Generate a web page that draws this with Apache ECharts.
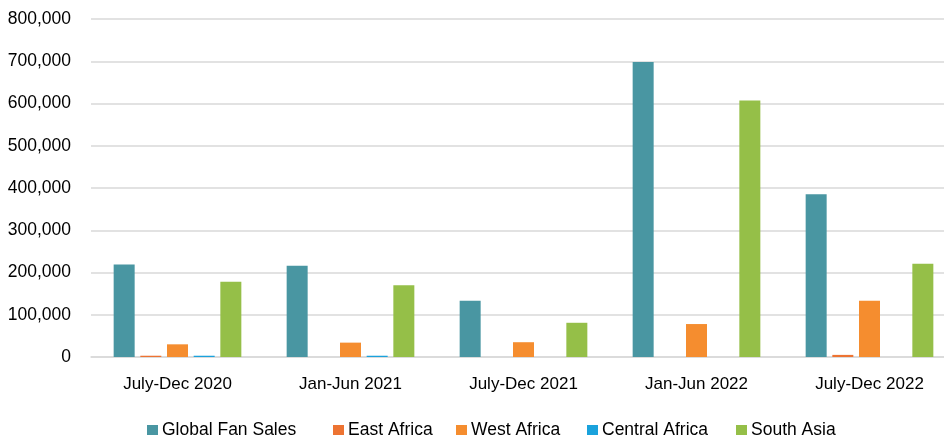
<!DOCTYPE html>
<html>
<head>
<meta charset="utf-8">
<script src="https://cdn.jsdelivr.net/npm/echarts@6/dist/echarts.min.js"></script>
<style>
  html, body { margin: 0; padding: 0; background: #ffffff; }
  #chart { width: 944px; height: 443px; }
</style>
</head>
<body>
<div id="chart"></div>
<script>
// Half-year periods on the category axis
const periods = ['July-Dec 2020', 'Jan-Jun 2021', 'July-Dec 2021', 'Jan-Jun 2022', 'July-Dec 2022'];

// Fan sales per region, units sold
const globalFanSales = [219000, 216000, 133000, 698000, 385000];
const eastAfrica     = [3000, 0, 0, 0, 5000];
const westAfrica     = [30000, 34000, 35000, 78000, 133000];
const centralAfrica  = [3000, 3000, 0, 0, 0];
const southAsia      = [178000, 170000, 81000, 607000, 221000];

const seriesNames  = ['Global Fan Sales', 'East Africa', 'West Africa', 'Central Africa', 'South Asia'];
const seriesValues = [globalFanSales, eastAfrica, westAfrica, centralAfrica, southAsia];
const seriesColors = ['#4996a2', '#ed7332', '#f58d2f', '#1aa2dc', '#95bf48'];

// Left edge of each legend box (the box has 5px padding before the swatch)
const legendLefts = [142, 328, 451, 582, 731];

const chart = echarts.init(document.getElementById('chart'), null, { renderer: 'canvas' });

const font = 'Liberation Sans, Arial, sans-serif';

chart.setOption({
  animation: false,
  textStyle: { fontFamily: font },
  // the plot runs a little past the right edge of the canvas
  grid: { left: 91, width: 865, top: 19, bottom: 86, containLabel: false, outerBoundsMode: 'none' },
  legend: seriesNames.map((name, i) => ({
    data: [name],
    left: legendLefts[i],
    top: 416,
    icon: 'rect',
    itemWidth: 11,
    itemHeight: 10,
    textStyle: { fontFamily: font, fontSize: 17.5, color: '#000000', padding: [0, 0, 0, -1] }
  })),
  xAxis: {
    type: 'category',
    data: periods,
    axisTick: { show: false },
    axisLine: { lineStyle: { color: '#d9d9d9', width: 1.5 } },
    axisLabel: { fontFamily: font, fontSize: 17, color: '#000000', margin: 19 }
  },
  yAxis: {
    type: 'value',
    min: 0,
    max: 800000,
    interval: 100000,
    axisLine: { show: false },
    axisTick: { show: false },
    splitLine: { lineStyle: { color: '#d9d9d9', width: 1.5 } },
    axisLabel: {
      fontFamily: font,
      fontSize: 17.5,
      color: '#000000',
      margin: 20,
      formatter: v => v.toLocaleString('en-US')
    }
  },
  series: seriesNames.map((name, i) => ({
    name: name,
    type: 'bar',
    data: seriesValues[i],
    barWidth: 21,
    barGap: '27%',
    itemStyle: { color: seriesColors[i] }
  }))
});
</script>
</body>
</html>
